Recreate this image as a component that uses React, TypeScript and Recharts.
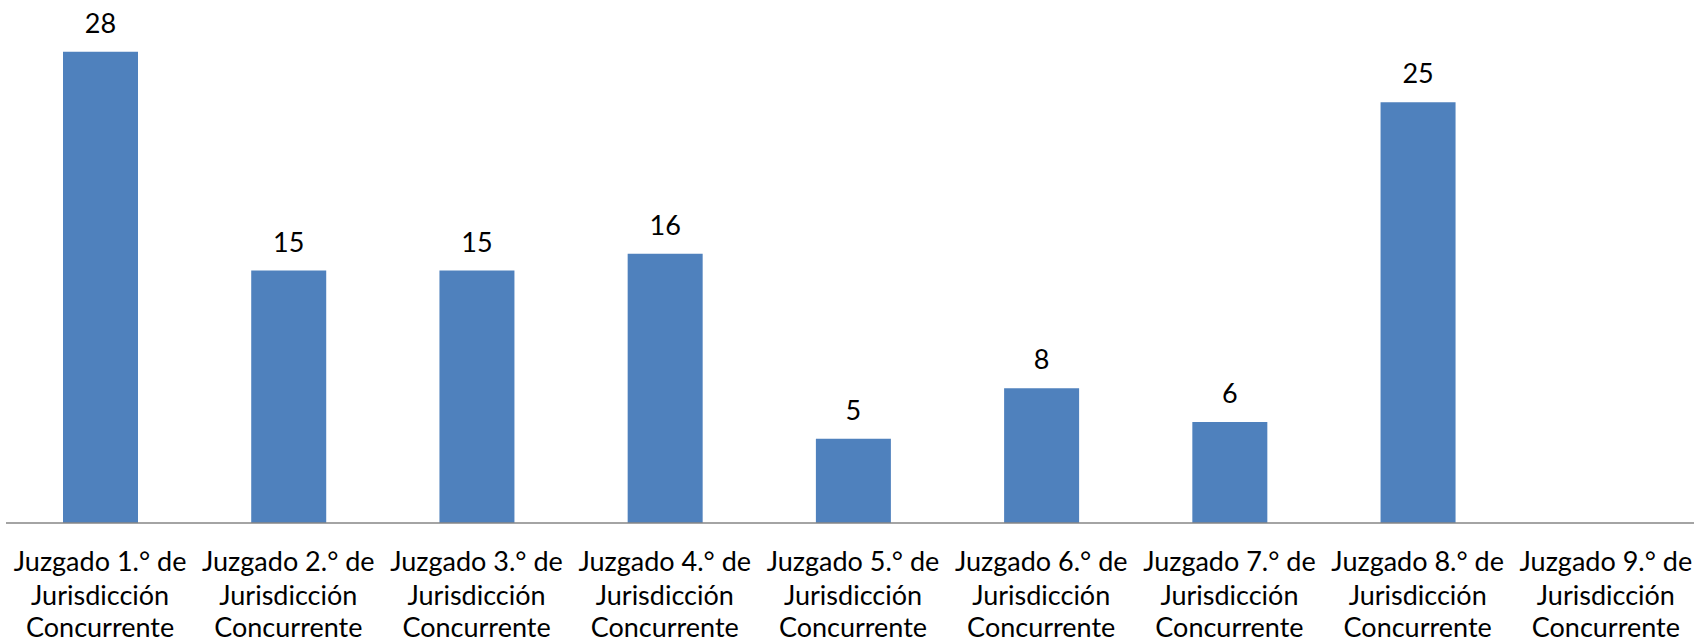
import { BarChart, Bar, XAxis, YAxis, LabelList } from 'recharts';

const juzgados = [
  'Juzgado 1.° de',
  'Juzgado 2.° de',
  'Juzgado 3.° de',
  'Juzgado 4.° de',
  'Juzgado 5.° de',
  'Juzgado 6.° de',
  'Juzgado 7.° de',
  'Juzgado 8.° de',
  'Juzgado 9.° de',
];
const casos: (number | null)[] = [28, 15, 15, 16, 5, 8, 6, 25, null];

const chartData = juzgados.map((j, i) => ({
  name: `${j} Jurisdicción Concurrente`,
  line1: j,
  casos: casos[i],
}));

const FONT = 'Lato, sans-serif';

function JuzgadoTick({ x, y, payload, index }: any) {
  const row = chartData[index] || chartData.find((d) => d.name === payload.value);
  return (
    <text x={x} y={y} textAnchor="middle" fill="#000" fontSize={27} fontFamily={FONT}>
      <tspan x={x} dy={40}>{row ? row.line1 : ''}</tspan>
      <tspan x={x} dy={34}>Jurisdicción</tspan>
      <tspan x={x} dy={32}>Concurrente</tspan>
    </text>
  );
}

export default function App() {
  return (
    <div style={{ position: 'absolute', left: 0, top: 0, width: 1694, height: 644, overflow: 'hidden', background: '#fff' }}>
      <BarChart
        width={1700}
        height={644}
        data={chartData}
        margin={{ top: 18, right: 0, left: 6, bottom: 0 }}
      >
        <XAxis
          dataKey="name"
          interval={0}
          height={121}
          axisLine={{ stroke: '#868686', strokeWidth: 1.5 }}
          tickLine={false}
          tick={<JuzgadoTick />}
        />
        <YAxis hide domain={[0, 30]} />
        <Bar dataKey="casos" fill="#4F81BD" barSize={75} isAnimationActive={false}>
          <LabelList
            dataKey="casos"
            position="top"
            offset={19}
            fill="#000"
            fontSize={27}
            fontFamily={FONT}
          />
        </Bar>
      </BarChart>
    </div>
  );
}
